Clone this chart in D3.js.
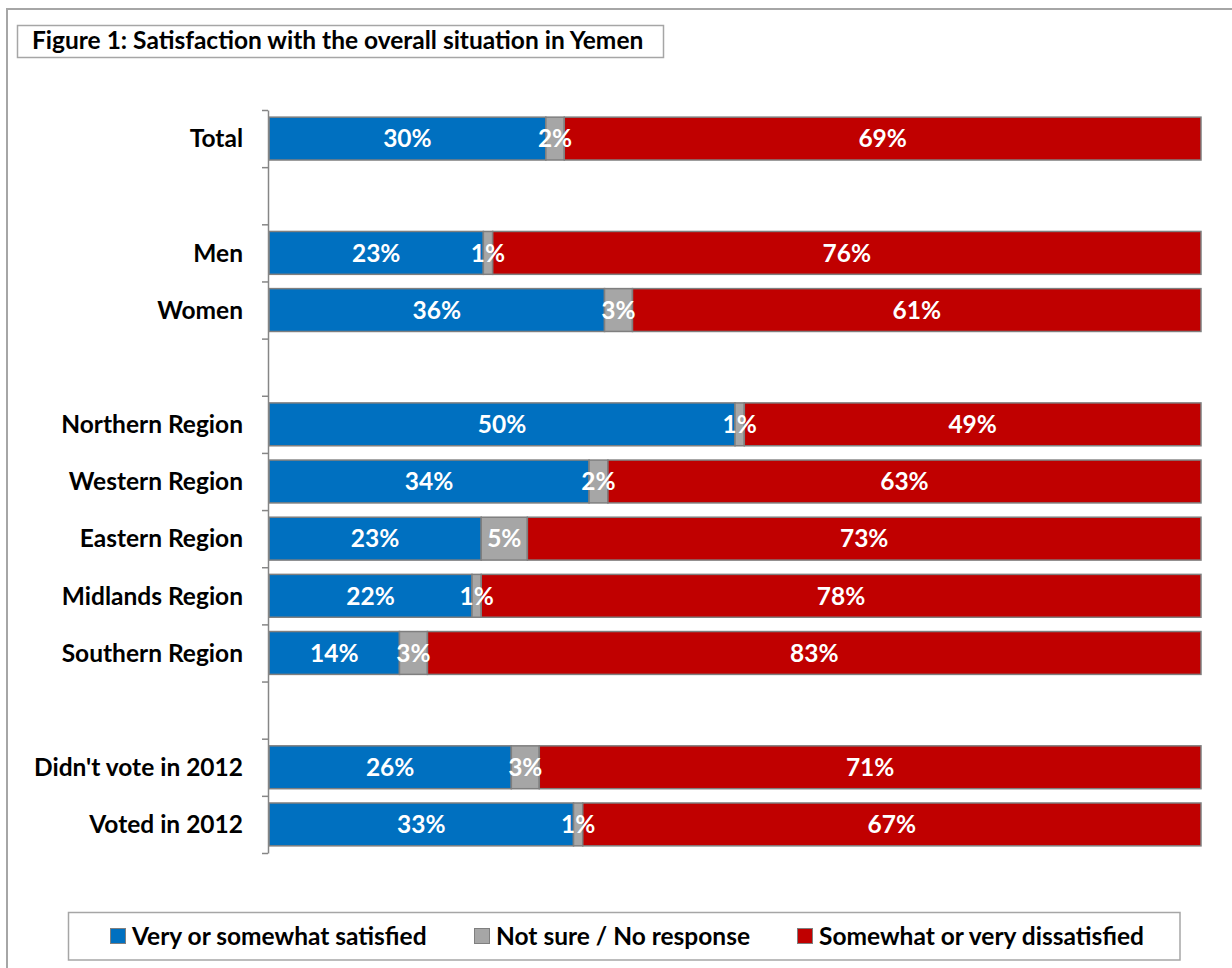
<!DOCTYPE html>
<html>
<head>
<meta charset="utf-8">
<script src="https://cdn.jsdelivr.net/npm/d3@7"></script>
<style>
  html, body { margin: 0; padding: 0; background: #fff; }
  svg { display: block; font-family: Lato, "Open Sans", sans-serif; }
</style>
</head>
<body>
<svg id="chart" width="1232" height="968"></svg>
<script>
// Row labels; empty strings are spacer rows between groups
const categories = ["Total", "", "Men", "Women", "", "Northern Region", "Western Region",
  "Eastern Region", "Midlands Region", "Southern Region", "", "Didn't vote in 2012", "Voted in 2012"];
const satisfied    = [30, null, 23, 36, null, 50, 34, 23, 22, 14, null, 26, 33];
const notSure      = [2,  null, 1,  3,  null, 1,  2,  5,  1,  3,  null, 3,  1];
const dissatisfied = [69, null, 76, 61, null, 49, 63, 73, 78, 83, null, 71, 67];
const seriesNames  = ["Very or somewhat satisfied", "Not sure / No response", "Somewhat or very dissatisfied"];
const seriesColors = ["#0070c0", "#a6a6a6", "#c00000"];
const seriesKeys   = ["satisfied", "notSure", "dissatisfied"];

const svg = d3.select("#chart");
const fontBold = "bold";
const fontSize = 24.5;

// Outer frame (open on the right and bottom edges of the canvas)
svg.append("rect")
  .attr("x", 7).attr("y", 9).attr("width", 1400).attr("height", 1100)
  .attr("fill", "#fff").attr("stroke", "#a6a6a6").attr("stroke-width", 2);

// Title box
svg.append("rect")
  .attr("x", 17.5).attr("y", 25.5).attr("width", 646).attr("height", 32)
  .attr("fill", "#fff").attr("stroke", "#a6a6a6").attr("stroke-width", 1.5);
svg.append("text")
  .attr("x", 32).attr("y", 48.5)
  .attr("font-size", fontSize).attr("font-weight", fontBold).attr("fill", "#000")
  .text("Figure 1: Satisfaction with the overall situation in Yemen");

// Scales
const plotTop = 110, plotBottom = 853, plotLeft = 269, plotRight = 1201;
const rowIdx = d3.range(categories.length);
const y = d3.scaleBand().domain(rowIdx).range([plotTop, plotBottom])
  .paddingInner(0.25).paddingOuter(0.125);
const slot = d3.scaleLinear().domain([0, categories.length]).range([plotTop, plotBottom]);
const x = d3.scaleLinear().domain([0, 1]).range([plotLeft, plotRight]);

// Stacked rows, each normalised to its own total
const rows = rowIdx.filter(i => categories[i] !== "").map(i => ({
  idx: i, satisfied: satisfied[i], notSure: notSure[i], dissatisfied: dissatisfied[i]
}));
const stacked = d3.stack().keys(seriesKeys).offset(d3.stackOffsetExpand)(rows);

const groups = svg.append("g").selectAll("g").data(stacked).join("g")
  .attr("fill", (d, i) => seriesColors[i]);

groups.selectAll("rect").data(d => d).join("rect")
  .attr("x", d => x(d[0]))
  .attr("y", d => y(d.data.idx))
  .attr("width", d => x(d[1]) - x(d[0]))
  .attr("height", y.bandwidth())
  .attr("stroke", "#7f7f7f").attr("stroke-width", 1.5);

// Segment value labels
stacked.forEach(s => {
  svg.append("g").selectAll("text").data(s).join("text")
    .attr("x", d => (x(d[0]) + x(d[1])) / 2)
    .attr("y", d => y(d.data.idx) + y.bandwidth() / 2)
    .attr("dy", "0.36em")
    .attr("text-anchor", "middle")
    .attr("font-size", fontSize).attr("font-weight", fontBold).attr("fill", "#fff")
    .text(d => d.data[s.key] + "%");
});

// Category axis with ticks at slot boundaries
const axis = svg.append("g")
  .attr("transform", `translate(${plotLeft - 1},0)`)
  .call(d3.axisLeft(slot).tickValues(d3.range(categories.length + 1))
    .tickFormat("").tickSize(6).tickSizeOuter(0));
axis.select(".domain").attr("stroke", "#868686").attr("stroke-width", 1.5);
axis.selectAll(".tick line").attr("stroke", "#868686").attr("stroke-width", 1.5);

svg.append("g").selectAll("text").data(rowIdx.filter(i => categories[i] !== "")).join("text")
  .attr("x", 243)
  .attr("y", i => y(i) + y.bandwidth() / 2)
  .attr("dy", "0.36em")
  .attr("text-anchor", "end")
  .attr("font-size", fontSize).attr("font-weight", fontBold).attr("fill", "#000")
  .text(i => categories[i]);

// Legend
svg.append("rect")
  .attr("x", 68.5).attr("y", 912.5).attr("width", 1111.5).attr("height", 47.5)
  .attr("fill", "#fff").attr("stroke", "#a6a6a6").attr("stroke-width", 1.5);
const legendX = [110, 474, 797];
const legend = svg.append("g").selectAll("g").data(seriesNames).join("g")
  .attr("transform", (d, i) => `translate(${legendX[i]},928)`);
legend.append("rect")
  .attr("x", 0.5).attr("y", 0.5).attr("width", 15).attr("height", 15)
  .attr("fill", (d, i) => seriesColors[i]).attr("stroke", "#7f7f7f").attr("stroke-width", 1);
legend.append("text")
  .attr("x", 22).attr("y", 8).attr("dy", "0.36em")
  .attr("font-size", fontSize).attr("font-weight", fontBold).attr("fill", "#000")
  .text(d => d);
</script>
</body>
</html>
